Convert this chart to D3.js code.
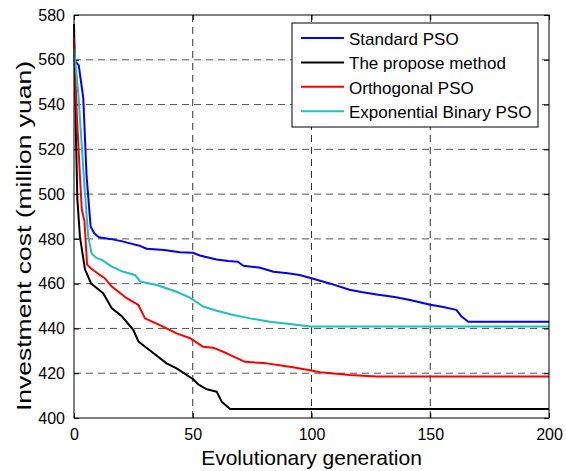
<!DOCTYPE html>
<html>
<head>
<meta charset="utf-8">
<script src="https://cdn.jsdelivr.net/npm/d3@7"></script>
<style>
  body { margin: 0; background: #fff; }
  text { font-family: Arial, "Liberation Sans", sans-serif; fill: #000; }
</style>
</head>
<body>
<script>
// Series data: [generation, investment cost]
const standardPSO = [
  [0, 560], [2, 557.5], [3.9, 543], [5.3, 508], [7, 485.5], [8.5, 482.5], [10.5, 480.7],
  [15, 480], [20, 479], [23.6, 478], [28, 476.8], [30.6, 475.6], [38, 475], [44.6, 474],
  [50, 473.8], [53, 472.6], [60, 470.8], [65, 470.1], [69, 469.8], [71.3, 468], [78, 467.2],
  [84, 465.3], [90, 464.6], [95, 463.9], [100, 462.4], [104, 461.2], [108, 460],
  [116, 457.3], [121, 456.3], [127.4, 455.2], [135, 454], [141.5, 452.7], [146, 451.6],
  [150, 450.6], [155, 449.7], [161, 448.3], [163.2, 445.3], [166, 443], [200, 443]
];
const proposeMethod = [
  [0, 576], [0.8, 527], [1.4, 498], [2.5, 481], [4.6, 466.5], [7.2, 460], [8.1, 459.3],
  [12.3, 455.7], [15.9, 449], [20.1, 445.5], [25, 439.3], [27.1, 434.2], [32.7, 429.6],
  [39, 424.4], [43.2, 422.2], [50.2, 417.3], [52.3, 415], [55.9, 412.8], [60.1, 411.7],
  [62.2, 407.3], [65.7, 404], [200, 404]
];
const orthogonalPSO = [
  [0, 570], [1.1, 537.6], [2.5, 508], [3.3, 493], [4.4, 488], [5.5, 468.5], [7.2, 466.8],
  [10.9, 463.9], [13, 462.4], [15.9, 458.7], [22.2, 453.5], [27.1, 450.5], [29.9, 444.5],
  [36.2, 441.5], [43.2, 437.8], [49, 435.6], [54.4, 431.8], [58.6, 431.4], [64.3, 428.9],
  [72, 425.1], [81.1, 424.4], [90.9, 422.9], [99.4, 421.3], [103.6, 420.4], [116.2, 419.2],
  [127.4, 418.5], [200, 418.5]
];
const binaryPSO = [
  [0, 565], [1.8, 545], [3.2, 522.7], [4.6, 500.4], [6, 481], [7.4, 473.5], [9.5, 471.5],
  [11.7, 470.6], [15.9, 467.6], [20.8, 465.3], [25.7, 463.9], [27.8, 461], [34.8, 459.4],
  [43.2, 456.4], [48.8, 453.8], [54.4, 449.8], [60.1, 447.9], [67.1, 446], [74.1, 444.5],
  [82.5, 443], [90.9, 442], [99.4, 440.9], [200, 440.9]
];

const seriesNames = ["Standard PSO", "The propose method", "Orthogonal PSO", "Exponential Binary PSO"];
const seriesData = [standardPSO, proposeMethod, orthogonalPSO, binaryPSO];
const seriesColors = ["#0000ff", "#000000", "#ff0000", "#1fbfbf"];

const xTicks = [0, 50, 100, 150, 200];
const yTicks = [400, 420, 440, 460, 480, 500, 520, 540, 560, 580];

// Layout
const W = 566, H = 471;
const margin = { top: 15, right: 17, bottom: 53, left: 74 };
const width = W - margin.left - margin.right;
const height = H - margin.top - margin.bottom;

const svg = d3.select("body").append("svg")
  .attr("width", W)
  .attr("height", H);

const g = svg.append("g")
  .attr("transform", `translate(${margin.left},${margin.top})`);

const x = d3.scaleLinear().domain([0, 200]).range([0, width]);
const y = d3.scaleLinear().domain([400, 580]).range([height, 0]);

// Grid lines (dashed)
g.append("g")
  .selectAll("line")
  .data(yTicks.slice(1, -1))
  .join("line")
  .attr("x1", 0).attr("x2", width)
  .attr("y1", (d) => y(d)).attr("y2", (d) => y(d))
  .attr("stroke", "#555")
  .attr("stroke-width", 1)
  .attr("stroke-dasharray", "7,5");

g.append("g")
  .selectAll("line")
  .data(xTicks.slice(1, -1))
  .join("line")
  .attr("x1", (d) => x(d)).attr("x2", (d) => x(d))
  .attr("y1", 0).attr("y2", height)
  .attr("stroke", "#333")
  .attr("stroke-width", 1)
  .attr("stroke-dasharray", "7,5");

// Axes with inward ticks
const xAxis = g.append("g")
  .attr("transform", `translate(0,${height})`)
  .call(d3.axisBottom(x).tickValues(xTicks).tickSize(-5).tickPadding(11).tickSizeOuter(0));
const yAxis = g.append("g")
  .call(d3.axisLeft(y).tickValues(yTicks).tickSize(-5).tickPadding(9).tickSizeOuter(0));
g.append("g")
  .call(d3.axisTop(x).tickValues(xTicks).tickSize(-5).tickFormat("").tickSizeOuter(0));
g.append("g")
  .attr("transform", `translate(${width},0)`)
  .call(d3.axisRight(y).tickValues(yTicks).tickSize(-5).tickFormat("").tickSizeOuter(0));

g.selectAll(".tick text")
  .style("font-size", "16px")
  .style("font-family", "Arial, 'Liberation Sans', sans-serif");
g.selectAll(".domain").remove();
g.selectAll(".tick line").attr("stroke", "#000");

// Lines
const line = d3.line()
  .x((d) => x(d[0]))
  .y((d) => y(d[1]));

seriesData.forEach((data, i) => {
  g.append("path")
    .datum(data)
    .attr("fill", "none")
    .attr("stroke", seriesColors[i])
    .attr("stroke-width", 2)
    .attr("stroke-linejoin", "round")
    .attr("d", line);
});

// Frame
g.append("rect")
  .attr("x", 0).attr("y", 0)
  .attr("width", width).attr("height", height)
  .attr("fill", "none")
  .attr("stroke", "#000")
  .attr("stroke-width", 1);

// Legend
const legend = svg.append("g").attr("transform", "translate(292,23)");
legend.append("rect")
  .attr("width", 246).attr("height", 104)
  .attr("fill", "#fff")
  .attr("stroke", "#000");

seriesNames.forEach((name, i) => {
  const ly = 15 + i * 24.4;
  legend.append("line")
    .attr("x1", 9).attr("x2", 52)
    .attr("y1", ly).attr("y2", ly)
    .attr("stroke", seriesColors[i])
    .attr("stroke-width", 2);
  legend.append("text")
    .attr("x", 57).attr("y", ly + 7)
    .style("font-size", "17px")
    .text(name);
});

// Axis titles
svg.append("text")
  .attr("x", margin.left + width / 2)
  .attr("y", 465)
  .attr("text-anchor", "middle")
  .style("font-size", "21px")
  .text("Evolutionary generation");

svg.append("text")
  .attr("transform", "translate(31,236) rotate(-90)")
  .attr("text-anchor", "middle")
  .style("font-size", "21px")
  .attr("textLength", 350)
  .attr("lengthAdjust", "spacingAndGlyphs")
  .text("Investment cost (million yuan)");
</script>
</body>
</html>
